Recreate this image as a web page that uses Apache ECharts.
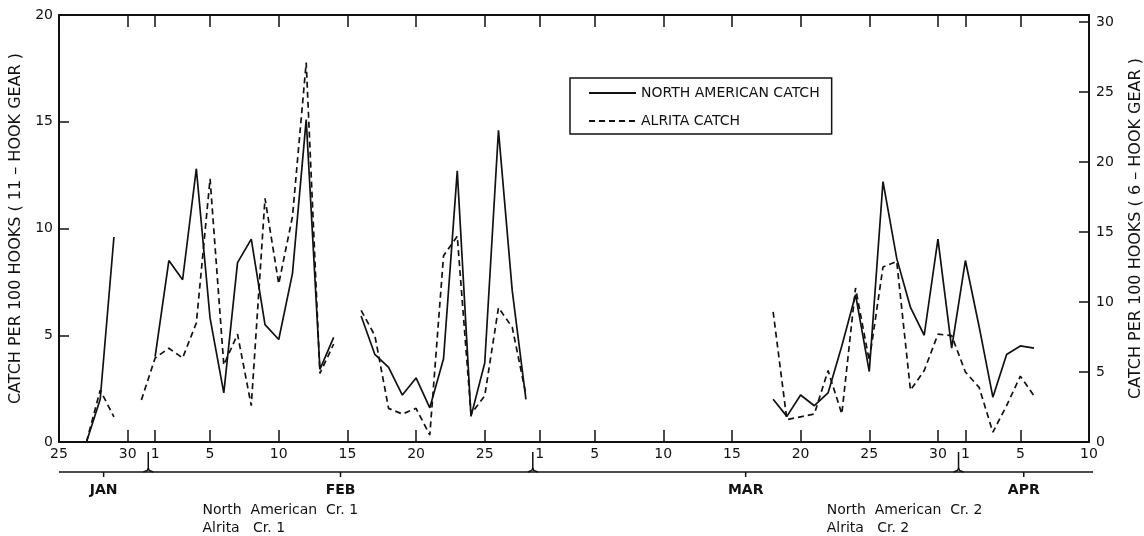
<!DOCTYPE html>
<html>
<head>
<meta charset="utf-8">
<script src="https://cdn.jsdelivr.net/npm/echarts@6/dist/echarts.min.js"></script>
<style>
  html, body { margin: 0; padding: 0; background: #fff; }
  #chart { width: 1144px; height: 536px; }
</style>
</head>
<body>
<div id="chart"></div>
<script>
// month, first day, last day shown on the axis
var months = [['Jan', 25, 31], ['Feb', 1, 28], ['Mar', 1, 31], ['Apr', 1, 10]];
// dates carrying a tick + label
var tickDates = ['Jan 25', 'Jan 30', 'Feb 1', 'Feb 5', 'Feb 10', 'Feb 15', 'Feb 20', 'Feb 25',
                 'Mar 1', 'Mar 5', 'Mar 10', 'Mar 15', 'Mar 20', 'Mar 25', 'Mar 30',
                 'Apr 1', 'Apr 5', 'Apr 10'];
var leftTicks = [0, 5, 10, 15, 20];
var rightTicks = [0, 5, 10, 15, 20, 25, 30];

// North American catch (11-hook gear, left axis), one value per day from start
var naJan   = { start: 'Jan 27', values: [0, 2.0, 9.6] };
var naFebA  = { start: 'Feb 1',  values: [4.0, 8.5, 7.6, 12.8, 5.8, 2.3, 8.4, 9.5, 5.5, 4.8, 7.9, 15.1, 3.4, 4.9] };
var naFebB  = { start: 'Feb 16', values: [5.9, 4.1, 3.5, 2.2, 3.0, 1.6, 3.9, 12.7, 1.2, 3.7, 14.6, 7.1, 2.0] };
var naMar   = { start: 'Mar 18', values: [2.0, 1.2, 2.2, 1.7, 2.3, 4.5, 6.9, 3.3, 12.2, 8.6, 6.3, 5.0, 9.5, 4.4,
                                          8.5, 5.4, 2.1, 4.1, 4.5, 4.4] };
// Alrita catch (6-hook gear, right axis)
var alJan   = { start: 'Jan 27', values: [0, 3.7, 1.8] };
var alFebA  = { start: 'Jan 31', values: [3.0, 6.0, 6.7, 6.0, 8.5, 18.8, 5.5, 7.7, 2.6, 17.4, 11.3, 16.1, 27.1, 4.9, 7.0] };
var alFebB  = { start: 'Feb 16', values: [9.4, 7.6, 2.4, 2.0, 2.4, 0.5, 13.3, 14.7, 2.0, 3.3, 9.6, 8.2, 3.4] };
var alMar   = { start: 'Mar 18', values: [9.3, 1.6, 1.8, 2.0, 5.1, 2.0, 11.0, 5.8, 12.5, 12.9, 3.7, 5.1, 7.7, 7.6,
                                          5.0, 3.9, 0.7, 2.6, 4.7, 3.3] };

var ink = '#111';
var font = 'DejaVu Sans';

var cats = [];
months.forEach(function (m) {
    for (var d = m[1]; d <= m[2]; d++) cats.push(m[0] + ' ' + d);
});
var tickIdx = tickDates.map(function (t) { return cats.indexOf(t); });
function isTick(i) { return tickIdx.indexOf(i) >= 0; }

function place(segs) {
    var arr = cats.map(function () { return null; });
    segs.forEach(function (s) {
        var i0 = cats.indexOf(s.start);
        s.values.forEach(function (v, i) { arr[i0 + i] = v; });
    });
    return arr;
}

var myChart = echarts.init(document.getElementById('chart'));

var xBase = {
    type: 'category',
    data: cats,
    boundaryGap: false,
    axisLine: { onZero: false, lineStyle: { color: ink, width: 2 } },
    axisTick: { inside: true, length: 12, interval: function (i) { return isTick(i); },
                lineStyle: { color: ink, width: 1.5 } },
    splitLine: { show: false }
};

var option = {
    animation: false,
    backgroundColor: '#fff',
    grid: { left: 59, right: 55, top: 15, bottom: 94, outerBoundsMode: 'none', containLabel: false },
    legend: {
        left: 570, top: 78,
        orient: 'vertical',
        data: ['NORTH AMERICAN CATCH', 'ALRITA CATCH'],
        borderColor: ink, borderWidth: 1.5,
        padding: [8, 12, 6, 18],
        itemWidth: 47, itemHeight: 14, itemGap: 14,
        itemStyle: { opacity: 0 },
        textStyle: { color: ink, fontSize: 14, fontFamily: font }
    },
    xAxis: [
        Object.assign({}, xBase, {
            position: 'bottom',
            axisLabel: {
                interval: function (i) { return isTick(i); },
                formatter: function (v) { return v.split(' ')[1]; },
                color: ink, fontSize: 14, fontFamily: font, margin: 5
            }
        }),
        Object.assign({}, xBase, {
            position: 'top',
            axisLabel: { show: false }
        })
    ],
    yAxis: [
        {
            type: 'value', position: 'left',
            min: leftTicks[0], max: leftTicks[leftTicks.length - 1], interval: 5,
            name: 'CATCH PER 100 HOOKS ( 11 – HOOK GEAR )',
            nameLocation: 'middle', nameRotate: 90, nameGap: 27,
            nameTextStyle: { color: ink, fontSize: 16, fontFamily: font },
            axisLine: { show: true, onZero: false, lineStyle: { color: ink, width: 2 } },
            axisTick: { show: true, inside: true, length: 10, lineStyle: { color: ink, width: 1.5 } },
            axisLabel: { color: ink, fontSize: 14, fontFamily: font, margin: 6 },
            splitLine: { show: false }
        },
        {
            type: 'value', position: 'right',
            min: rightTicks[0], max: 30.5, interval: 5,
            name: 'CATCH PER 100 HOOKS ( 6 – HOOK GEAR )',
            nameLocation: 'middle', nameRotate: 90, nameGap: 39,
            nameTextStyle: { color: ink, fontSize: 16, fontFamily: font },
            axisLine: { show: true, onZero: false, lineStyle: { color: ink, width: 2 } },
            axisTick: { show: true, inside: true, length: 10, lineStyle: { color: ink, width: 1.5 } },
            axisLabel: {
                color: ink, fontSize: 14, fontFamily: font, margin: 7,
                formatter: function (v) { return rightTicks.indexOf(v) >= 0 ? String(v) : ''; }
            },
            splitLine: { show: false }
        }
    ],
    series: [
        {
            name: 'NORTH AMERICAN CATCH', type: 'line',
            xAxisIndex: 0, yAxisIndex: 0,
            data: place([naJan, naFebA, naFebB, naMar]),
            symbol: 'none', connectNulls: false,
            lineStyle: { color: ink, width: 1.7 },
            itemStyle: { color: ink }
        },
        {
            name: 'ALRITA CATCH', type: 'line',
            xAxisIndex: 0, yAxisIndex: 1,
            data: place([alJan, alFebA, alFebB, alMar]),
            symbol: 'none', connectNulls: false,
            lineStyle: { color: ink, width: 1.7, type: [6, 4] },
            itemStyle: { color: ink }
        }
    ]
};
myChart.setOption(option);

// month brace and cruise notes under the axis
var x0 = myChart.convertToPixel({ xAxisIndex: 0 }, 0);
var x1 = myChart.convertToPixel({ xAxisIndex: 0 }, cats.length - 1);
var yAxisPx = myChart.convertToPixel({ yAxisIndex: 0 }, 0);
function dayX(d) { return x0 + (x1 - x0) * d / (cats.length - 1); }

var braceY = yAxisPx + 30;
var g = [];
var lineSt = { stroke: ink, lineWidth: 1.5, fill: null };
g.push({ type: 'line', shape: { x1: x0, y1: braceY, x2: x1 + 4, y2: braceY }, style: lineSt });

var seps = [];
var startDay = 0;
months.forEach(function (m, k) {
    var endDay = startDay + (m[2] - m[1]);
    var left = k === 0 ? 0 : startDay - 0.5;
    var right = k === months.length - 1 ? endDay : endDay + 0.5;
    var c = dayX((left + right) / 2);
    g.push({ type: 'line', shape: { x1: c, y1: braceY, x2: c, y2: braceY + 5 }, style: lineSt });
    g.push({ type: 'text', x: c, y: braceY + 18,
             style: { text: m[0].toUpperCase(), fill: ink, font: 'bold 14px ' + font,
                      align: 'center', verticalAlign: 'middle' } });
    if (k < months.length - 1) seps.push(endDay + 0.5);
    startDay = endDay + 1;
});
seps.forEach(function (d) {
    var x = dayX(d);
    g.push({ type: 'polyline', shape: { points: [[x, yAxisPx + 10], [x, braceY - 4], [x - 1, braceY - 1.5], [x - 5, braceY]] }, style: lineSt });
    g.push({ type: 'polyline', shape: { points: [[x, braceY - 4], [x + 1, braceY - 1.5], [x + 5, braceY]] }, style: lineSt });
});

var notes = [
    { day: 10.45, lines: ['North  American  Cr. 1', 'Alrita   Cr. 1'] },
    { day: 55.9,  lines: ['North  American  Cr. 2', 'Alrita   Cr. 2'] }
];
notes.forEach(function (n) {
    n.lines.forEach(function (t, j) {
        g.push({ type: 'text', x: dayX(n.day), y: braceY + 38 + j * 18,
                 style: { text: t, fill: ink, font: '14px ' + font, align: 'left', verticalAlign: 'middle' } });
    });
});

myChart.setOption({ graphic: g });
</script>
</body>
</html>
